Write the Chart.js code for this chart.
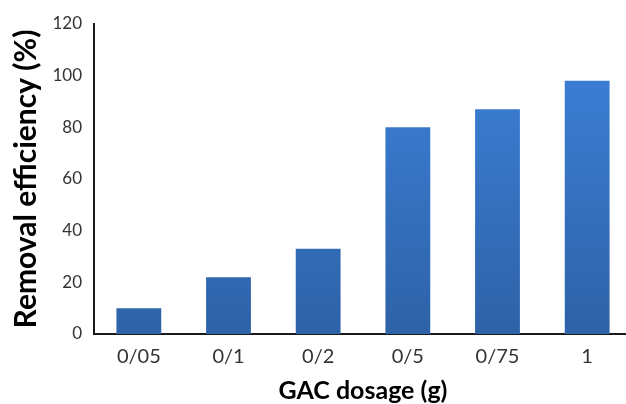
<!DOCTYPE html>
<html>
<head>
<meta charset="utf-8">
<script src="https://cdn.jsdelivr.net/npm/chart.js@4/dist/chart.umd.min.js"></script>
<style>
  html, body { margin: 0; padding: 0; background: #fff; overflow: hidden; }
  #wrap { width: 632px; height: 404px; }
</style>
</head>
<body>
<div id="wrap"><canvas id="c" width="632" height="404"></canvas></div>
<script>
// GAC dosage categories and measured removal efficiency
const dosages = ['0/05', '0/1', '0/2', '0/5', '0/75', '1'];
const removalEfficiency = [10, 22, 33, 80, 87, 98];
const yTicks = [0, 20, 40, 60, 80, 100, 120];

const FONT = 'Lato, "Open Sans", sans-serif';

// Give each bar its own vertical gradient, lighter at the top
const barGradient = {
  id: 'barGradient',
  beforeDatasetDraw(chart, args) {
    const ctx = chart.ctx;
    args.meta.data.forEach(bar => {
      const g = ctx.createLinearGradient(0, bar.y, 0, bar.base);
      g.addColorStop(0, '#3b7dd3');
      g.addColorStop(1, '#2e62a7');
      bar.options.backgroundColor = g;
    });
  }
};

new Chart(document.getElementById('c'), {
  type: 'bar',
  data: {
    labels: dosages,
    datasets: [{
      data: removalEfficiency,
      backgroundColor: '#3572bf',
      borderWidth: 0,
      categoryPercentage: 1.0,
      barPercentage: 0.5
    }]
  },
  options: {
    responsive: false,
    animation: false,
    layout: { padding: { top: 24, right: 0, left: 0, bottom: 0 } },
    plugins: { legend: { display: false }, tooltip: { enabled: false } },
    scales: {
      x: {
        grid: { display: false, drawTicks: false },
        border: { display: true, color: '#1a1a1a', width: 2 },
        ticks: { color: '#333', font: { family: FONT, size: 20 }, padding: 11 },
        title: {
          display: true, text: 'GAC dosage (g)', color: '#000',
          font: { family: FONT, size: 25, weight: 'bold', lineHeight: 1.0 },
          padding: { top: 0, bottom: 1 }
        },
        afterFit(scale) { scale.height = 70; }
      },
      y: {
        min: 0, max: 120,
        afterBuildTicks(scale) { scale.ticks = yTicks.map(v => ({ value: v })); },
        grid: { display: false, drawTicks: false },
        border: { display: true, color: '#1a1a1a', width: 2 },
        ticks: { color: '#333', font: { family: FONT, size: 17 }, padding: 12 },
        title: {
          display: true, text: 'Removal efficiency (%)', color: '#000',
          font: { family: FONT, size: 30, weight: 'bold' },
          padding: { top: 8, bottom: 0 }
        },
        afterFit(scale) { scale.width = 94; }
      }
    }
  },
  plugins: [barGradient]
});
</script>
</body>
</html>
